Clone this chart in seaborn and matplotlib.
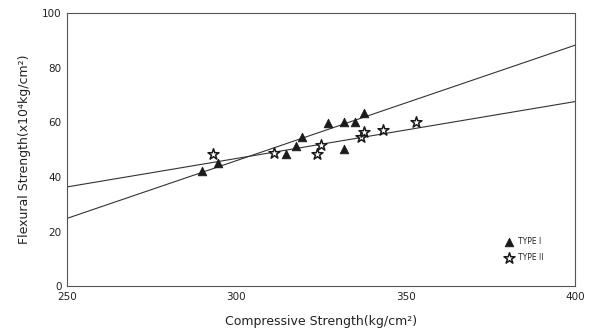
import matplotlib
matplotlib.use("Agg")
import matplotlib.pyplot as plt
import seaborn as sns

# Measured specimens: compressive vs. flexural strength
compressive_I = [290.0, 294.7, 314.8, 317.5, 319.4, 327.1, 331.9, 335.2, 337.6, 331.9]
flexural_I = [42.4, 45.0, 48.3, 51.2, 54.5, 59.7, 60.1, 60.3, 63.4, 50.3]
compressive_II = [293.2, 311.2, 323.9, 325.1, 336.7, 337.7, 343.3, 353.1]
flexural_II = [48.6, 48.7, 48.5, 51.8, 54.5, 56.4, 57.2, 60.0]

# Linear fits evaluated across the full axis range
fit_x = [250, 400]
fit_I = [24.9, 88.2]
fit_II = [36.4, 67.6]

x_ticks = [250, 300, 350, 400]
y_ticks = [0, 20, 40, 60, 80, 100]
series_labels = ["TYPE I", "TYPE II"]

sns.set_style("white")
plt.rcParams["font.family"] = ["DejaVu Sans"]

fig = plt.figure(figsize=(5.95, 3.35), dpi=100)
ax = fig.add_axes([0.1126, 0.1448, 0.8536, 0.8164])

ink = "#1a1a1a"
sns.lineplot(x=fit_x, y=fit_I, ax=ax, color="#333333", lw=0.8, legend=False)
sns.lineplot(x=fit_x, y=fit_II, ax=ax, color="#333333", lw=0.8, legend=False)

sns.scatterplot(x=compressive_I, y=flexural_I, ax=ax, marker="^", color=ink,
                edgecolor=ink, s=38, linewidth=0.6, label=series_labels[0], zorder=3)
sns.scatterplot(x=compressive_II, y=flexural_II, ax=ax, marker="*", color="white",
                edgecolor=ink, s=68, linewidth=1.1, label=series_labels[1], zorder=3)

ax.set_xlim(250, 400)
ax.set_ylim(0, 100)
ax.set_xticks(x_ticks)
ax.set_yticks(y_ticks)
ax.tick_params(length=0, pad=4, labelsize=7.5, colors="#222222")

for side in ["left", "right", "top", "bottom"]:
    ax.spines[side].set_visible(True)
    ax.spines[side].set_color("#555555")
    ax.spines[side].set_linewidth(0.8)

ax.set_xlabel("Compressive Strength(kg/cm²)", fontsize=9, color="#222222", labelpad=9)
ax.set_ylabel("Flexural Strength(x10⁴kg/cm²)", fontsize=9, color="#222222", labelpad=8)

leg = ax.legend(loc="center left", bbox_to_anchor=(0.845, 0.135), frameon=False,
                fontsize=5.5, handletextpad=0.2, labelspacing=0.9, borderpad=0.2)

fig.savefig("out.png", dpi=100)
